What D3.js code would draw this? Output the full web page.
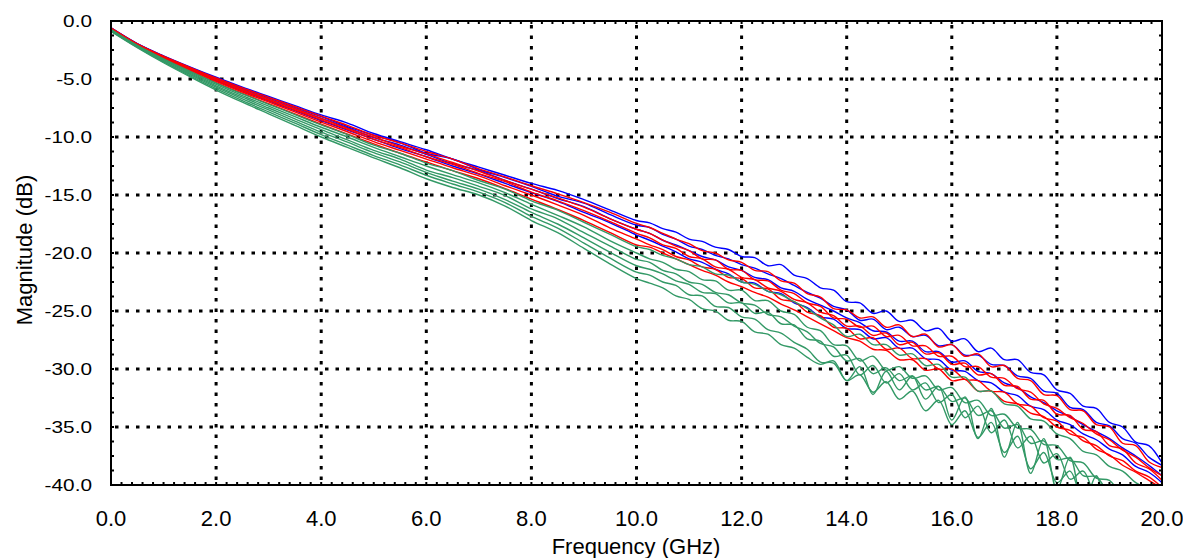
<!DOCTYPE html>
<html>
<head>
<meta charset="utf-8">
<script src="https://cdn.jsdelivr.net/npm/d3@7"></script>
<style>
html,body{margin:0;padding:0;background:#fff;}
svg{display:block;}
text{font-family:"Liberation Sans",Arial,sans-serif;fill:#000;}
</style>
</head>
<body>
<svg id="chart" width="1183" height="558"></svg>
<script>
// ---------- DATA ----------
const freqs = [0,0.5,1,1.5,2,2.5,3,3.5,4,4.5,5,5.5,6,6.5,7,7.5,8,8.5,9,9.5,10,
  10.25,10.5,10.75,11,11.25,11.5,11.75,12,12.25,12.5,12.75,13,13.25,13.5,13.75,14,14.25,14.5,14.75,15,
  15.25,15.5,15.75,16,16.25,16.5,16.75,17,17.25,17.5,17.75,18,18.25,18.5,18.75,19,19.25,19.5,19.75,20];

const xTicks = [0,2,4,6,8,10,12,14,16,18,20];
const yTicks = [0,-5,-10,-15,-20,-25,-30,-35,-40];

const blue1 = [-0.6,-1.95,-3.0,-3.95,-4.85,-5.7,-6.5,-7.3,-8.1,-8.8,-9.7,-10.4,-11.1,-11.9,-12.6,-13.3,-14.0,-14.6,-15.4,-16.3,-17.2,
 -17.4,-17.9,-18.2,-18.8,-19.0,-19.5,-19.7,-20.3,-20.4,-21.1,-21.0,-21.9,-22.2,-23.0,-23.2,-24.2,-24.3,-25.2,-25.0,-25.9,-25.8,-26.7,-26.5,-27.6,-27.4,-28.5,-28.2,-29.2,-29.2,-30.3,-30.5,-31.8,-32.1,-33.2,-33.4,-34.6,-35.0,-36.3,-36.6,-38.1];
const blue2 = [-0.6,-1.98,-3.05,-4.02,-4.94,-5.8,-6.62,-7.44,-8.25,-9.1,-9.85,-10.5,-11.4,-11.9,-12.8,-13.5,-14.25,-15.1,-15.7,-16.7,-17.6,
 -17.8,-18.4,-18.8,-19.4,-19.7,-20.2,-20.5,-21.0,-21.3,-21.8,-22.2,-22.8,-23.4,-23.9,-24.6,-24.9,-25.8,-25.7,-26.6,-26.4,-27.2,-27.1,-28.0,-27.9,-28.8,-28.8,-29.6,-29.7,-30.6,-30.8,-31.9,-32.1,-33.3,-33.5,-34.6,-34.9,-36.0,-36.4,-37.6,-38.3];
const blue3 = [-0.65,-2.0,-3.09,-4.08,-5.02,-5.9,-6.73,-7.56,-8.39,-9.2,-10.05,-10.7,-11.5,-12.3,-12.9,-13.75,-14.5,-15.3,-16.0,-17.05,-17.95,
 -18.3,-18.9,-19.3,-19.8,-20.3,-20.6,-21.2,-21.5,-22.1,-22.3,-23.0,-23.3,-24.0,-24.5,-25.0,-25.6,-26.0,-26.7,-26.8,-27.6,-27.6,-28.5,-28.5,-29.4,-29.3,-30.2,-30.4,-31.2,-31.6,-32.4,-32.9,-33.6,-34.1,-34.8,-35.4,-36.0,-36.8,-37.5,-38.3,-39.2];
const blue4 = [-0.7,-2.04,-3.15,-4.16,-5.13,-6.03,-6.88,-7.73,-8.58,-9.4,-10.2,-11.0,-11.7,-12.5,-13.2,-14.0,-14.8,-15.55,-16.5,-17.4,-18.45,
 -18.9,-19.4,-19.9,-20.5,-20.8,-21.4,-21.8,-22.5,-22.6,-23.3,-23.5,-24.3,-24.7,-25.5,-25.7,-26.5,-26.6,-27.4,-27.3,-28.2,-28.2,-29.1,-29.2,-30.1,-30.2,-31.0,-31.2,-32.0,-32.3,-33.2,-33.5,-34.4,-34.8,-35.6,-36.1,-36.9,-37.4,-38.4,-38.9,-39.8];

const red1 = [-0.6,-1.97,-3.03,-3.99,-4.91,-5.77,-6.58,-7.39,-8.2,-9.0,-9.85,-10.5,-11.25,-11.9,-12.75,-13.45,-14.2,-14.9,-15.65,-16.5,-17.45,
 -17.8,-18.3,-18.8,-19.2,-19.8,-20.0,-20.6,-20.8,-21.5,-21.6,-22.4,-22.6,-23.5,-23.8,-24.8,-24.9,-25.6,-25.5,-26.4,-26.2,-27.2,-27.0,-28.1,-27.9,-28.9,-28.7,-29.8,-29.7,-30.8,-31.0,-32.2,-32.3,-33.5,-33.6,-34.8,-35.0,-36.4,-36.6,-38.0,-38.5];
const red2 = [-0.65,-2.0,-3.09,-4.08,-5.02,-5.9,-6.73,-7.56,-8.39,-9.25,-10.0,-10.8,-11.45,-12.2,-12.95,-13.75,-14.5,-15.25,-16.05,-17.05,-17.95,
 -18.3,-18.9,-19.4,-19.8,-20.5,-20.6,-21.4,-21.5,-22.3,-22.4,-23.2,-23.5,-24.3,-24.6,-25.6,-25.7,-26.4,-26.3,-27.2,-27.1,-28.0,-28.0,-28.9,-28.9,-29.8,-29.8,-30.7,-30.8,-31.7,-32.0,-33.0,-33.4,-34.2,-34.7,-35.6,-36.1,-37.0,-37.6,-38.5,-39.2];
const red3 = [-0.7,-2.03,-3.13,-4.14,-5.09,-5.99,-6.83,-7.67,-8.52,-9.35,-10.2,-10.9,-11.7,-12.35,-13.15,-13.85,-14.75,-15.5,-16.35,-17.3,-18.3,
 -18.7,-19.3,-19.6,-20.3,-20.5,-21.2,-21.4,-22.1,-22.3,-23.0,-23.3,-24.0,-24.3,-25.1,-25.4,-26.3,-26.3,-27.1,-26.9,-27.9,-27.7,-28.7,-28.6,-29.6,-29.5,-30.5,-30.4,-31.4,-31.5,-32.6,-32.7,-33.9,-34.0,-35.2,-35.4,-36.6,-36.9,-38.1,-38.6,-39.6];
const red4 = [-0.7,-2.06,-3.19,-4.22,-5.2,-6.12,-6.98,-7.84,-8.71,-9.55,-10.4,-11.15,-11.9,-12.65,-13.35,-14.2,-15.0,-15.85,-16.75,-17.85,-18.8,
 -19.3,-19.7,-20.3,-20.6,-21.2,-21.4,-22.1,-22.2,-23.0,-23.1,-24.0,-24.2,-25.1,-25.4,-26.4,-26.5,-27.4,-27.3,-28.3,-28.2,-29.1,-29.1,-30.0,-30.0,-30.9,-31.0,-31.9,-32.0,-33.0,-33.2,-34.2,-34.5,-35.6,-35.9,-36.9,-37.4,-38.3,-38.9,-39.6,-40.3];
const red5 = [-0.75,-2.1,-3.25,-4.31,-5.31,-6.25,-7.13,-8.01,-8.9,-9.75,-10.6,-11.4,-12.15,-12.9,-13.6,-14.45,-15.35,-16.25,-17.2,-18.25,-19.3,
 -19.5,-20.0,-20.5,-21.0,-21.5,-21.9,-22.5,-22.9,-23.4,-23.8,-24.4,-24.9,-25.5,-26.1,-26.7,-27.3,-27.6,-28.3,-28.4,-29.2,-29.2,-30.1,-30.0,-31.0,-30.9,-31.9,-31.9,-32.8,-33.0,-33.8,-34.1,-35.0,-35.3,-36.2,-36.6,-37.5,-37.9,-38.8,-39.3,-40.2];

const green1 = [-0.75,-2.11,-3.27,-4.33,-5.35,-6.29,-7.18,-8.07,-8.96,-9.8,-10.7,-11.4,-12.25,-12.9,-13.75,-14.5,-15.5,-16.3,-17.35,-18.4,-19.45,
 -19.7,-20.2,-20.5,-21.0,-21.2,-21.8,-21.9,-22.5,-22.7,-23.3,-23.6,-24.2,-24.8,-25.6,-26.2,-27.2,-27.0,-27.9,-27.9,-28.8,-28.7,-29.7,-29.6,-30.7,-30.7,-31.9,-31.9,-33.0,-33.2,-34.3,-34.5,-35.6,-36.0,-37.1,-37.4,-38.4,-38.8,-39.8,-40.4,-41.3];
const green2 = [-0.75,-2.15,-3.34,-4.43,-5.47,-6.43,-7.34,-8.25,-9.16,-10.0,-10.9,-11.7,-12.5,-13.25,-13.95,-14.8,-15.8,-16.75,-17.75,-18.95,-20.0,
 -20.5,-20.8,-21.4,-21.6,-22.3,-22.4,-23.2,-23.2,-24.1,-24.1,-25.0,-25.3,-26.4,-26.7,-27.9,-28.0,-29.3,-28.9,-30.1,-29.8,-30.8,-30.6,-31.8,-31.6,-32.9,-32.7,-34.0,-33.9,-35.1,-35.2,-36.5,-36.6,-37.9,-38.1,-39.4,-39.6,-40.9,-41.1,-42.3,-42.7];
const green3 = [-0.8,-2.18,-3.4,-4.52,-5.59,-6.57,-7.5,-8.44,-9.37,-10.25,-11.15,-11.9,-12.85,-13.5,-14.25,-15.05,-16.2,-17.05,-18.25,-19.4,-20.55,
 -20.8,-21.5,-21.8,-22.5,-22.7,-23.4,-23.6,-24.3,-24.5,-25.3,-25.5,-26.3,-26.8,-27.8,-28.1,-29.3,-29.1,-30.4,-29.9,-31.0,-30.6,-31.8,-31.5,-32.8,-32.5,-34.0,-33.6,-35.1,-34.8,-36.4,-36.2,-37.8,-37.7,-39.2,-39.3,-40.7,-40.9,-42.2,-42.5,-43.6];
const green4 = [-0.85,-2.22,-3.47,-4.61,-5.71,-6.71,-7.67,-8.63,-9.58,-10.45,-11.35,-12.15,-13.05,-13.8,-14.5,-15.4,-16.5,-17.5,-18.7,-19.95,-21.1,
 -21.4,-21.8,-22.4,-22.7,-23.4,-23.5,-24.3,-24.3,-25.2,-25.1,-26.1,-26.2,-27.4,-27.6,-28.9,-28.8,-30.5,-29.7,-31.2,-30.4,-31.8,-31.2,-32.9,-32.2,-34.2,-33.2,-35.5,-34.4,-36.8,-35.8,-38.1,-37.3,-39.5,-38.8,-40.9,-40.3,-42.2,-41.8,-43.5,-43.3];
const green5 = [-0.85,-2.26,-3.53,-4.71,-5.83,-6.86,-7.84,-8.81,-9.79,-10.7,-11.6,-12.4,-13.3,-14.05,-14.75,-15.65,-16.85,-17.85,-19.15,-20.45,-21.65,
 -21.9,-22.5,-22.8,-23.6,-23.7,-24.6,-24.7,-25.5,-25.7,-26.6,-26.9,-27.7,-28.3,-29.4,-29.5,-31.0,-30.5,-32.0,-31.1,-32.6,-31.9,-33.6,-32.7,-34.8,-33.6,-35.9,-34.6,-37.2,-35.8,-38.6,-37.2,-39.8,-38.8,-41.2,-40.3,-42.5,-41.8,-43.6,-43.2,-44.5];
const green6 = [-0.9,-2.3,-3.6,-4.8,-5.95,-7.0,-8.0,-9.0,-10.0,-10.9,-11.8,-12.65,-13.6,-14.35,-15.0,-15.95,-17.2,-18.25,-19.6,-20.95,-22.2,
 -22.6,-23.0,-23.7,-24.0,-24.8,-25.0,-25.8,-25.9,-26.8,-27.0,-27.9,-28.2,-29.0,-29.6,-29.3,-31.0,-29.8,-32.2,-30.2,-31.8,-30.6,-32.6,-31.5,-34.4,-32.4,-36.0,-33.4,-37.6,-34.6,-39.0,-36.0,-40.4,-37.6,-41.8,-39.2,-43.0,-40.8,-44.2,-42.4,-45.5];

const blueTraces = [blue1, blue2, blue3, blue4];
const redTraces = [red1, red2, red3, red4, red5];
const greenTraces = [green1, green2, green3, green4, green5, green6];

// ---------- CHART ----------
const svg = d3.select("#chart");
const L = 111, R = 1162, T = 21, B = 485;
const x = d3.scaleLinear().domain([0, 20]).range([L, R]);
const y = d3.scaleLinear().domain([-40, 0]).range([B, T]);
const fmt = v => d3.format(".1f")(v).replace("\u2212", "-");

svg.append("defs").append("clipPath").attr("id", "plotclip")
  .append("rect").attr("x", L).attr("y", T).attr("width", R - L).attr("height", B - T);

// dotted gridlines
const grid = svg.append("g");
grid.selectAll("line.vg").data(xTicks.filter(d => d > 0 && d < 20)).join("line")
  .attr("x1", d => x(d)).attr("x2", d => x(d)).attr("y1", T).attr("y2", B)
  .attr("stroke", "#000").attr("stroke-width", 3).attr("stroke-dasharray", "3.5,7").attr("stroke-dashoffset", -4);
grid.selectAll("line.hg").data(yTicks.filter(d => d < 0 && d > -40)).join("line")
  .attr("x1", L).attr("x2", R).attr("y1", d => y(d)).attr("y2", d => y(d))
  .attr("stroke", "#000").attr("stroke-width", 3).attr("stroke-dasharray", "3.5,7").attr("stroke-dashoffset", -4);

// traces
const line = d3.line()
  .x(d => x(d[0])).y(d => y(d[1]))
  .curve(d3.curveCatmullRom.alpha(0.5));
const traces = svg.append("g").attr("clip-path", "url(#plotclip)");
function drawSet(set, color) {
  set.forEach(vals => {
    const pts = freqs.map((f, i) => [f, vals[i]]).filter(p => p[1] !== undefined);
    traces.append("path").attr("d", line(pts))
      .attr("fill", "none").attr("stroke", color).attr("stroke-width", 1.4)
      .attr("stroke-linejoin", "round");
  });
}
drawSet(blueTraces, "#0000ff");
drawSet(redTraces, "#ff0000");
drawSet(greenTraces, "#339966");

// frame
svg.append("rect").attr("x", L).attr("y", T).attr("width", R - L).attr("height", B - T)
  .attr("fill", "none").attr("stroke", "#000").attr("stroke-width", 2);

// minor ticks
const minorX = d3.range(0, 20.001, 0.2);
const minorY = d3.range(-40, 0.001, 1.25);
const mt = svg.append("g").attr("stroke", "#000").attr("stroke-width", 2);
mt.selectAll("line.mxb").data(minorX).join("line")
  .attr("x1", d => x(d)).attr("x2", d => x(d)).attr("y1", B).attr("y2", B - 3);
mt.selectAll("line.mxt").data(minorX).join("line")
  .attr("x1", d => x(d)).attr("x2", d => x(d)).attr("y1", T).attr("y2", T + 3);
mt.selectAll("line.myl").data(minorY).join("line")
  .attr("x1", L).attr("x2", L + 3).attr("y1", d => y(d)).attr("y2", d => y(d));
mt.selectAll("line.myr").data(minorY).join("line")
  .attr("x1", R).attr("x2", R - 3).attr("y1", d => y(d)).attr("y2", d => y(d));

// y tick labels
svg.append("g").selectAll("text").data(yTicks).join("text")
  .attr("transform", d => `translate(92,${y(d)}) scale(1.3,1)`)
  .attr("text-anchor", "end").attr("dy", "0.36em")
  .style("font-size", "16px").text(d => fmt(d));

// x tick labels
svg.append("g").selectAll("text").data(xTicks).join("text")
  .attr("x", d => x(d)).attr("y", 526)
  .attr("text-anchor", "middle")
  .style("font-size", "22px").text(d => fmt(d));

// axis titles
svg.append("text").attr("x", 636).attr("y", 554).attr("text-anchor", "middle")
  .style("font-size", "22px").text("Frequency (GHz)");
svg.append("text").attr("transform", "translate(32,250) rotate(-90)")
  .attr("text-anchor", "middle").style("font-size", "22px").text("Magnitude (dB)");
</script>
</body>
</html>
